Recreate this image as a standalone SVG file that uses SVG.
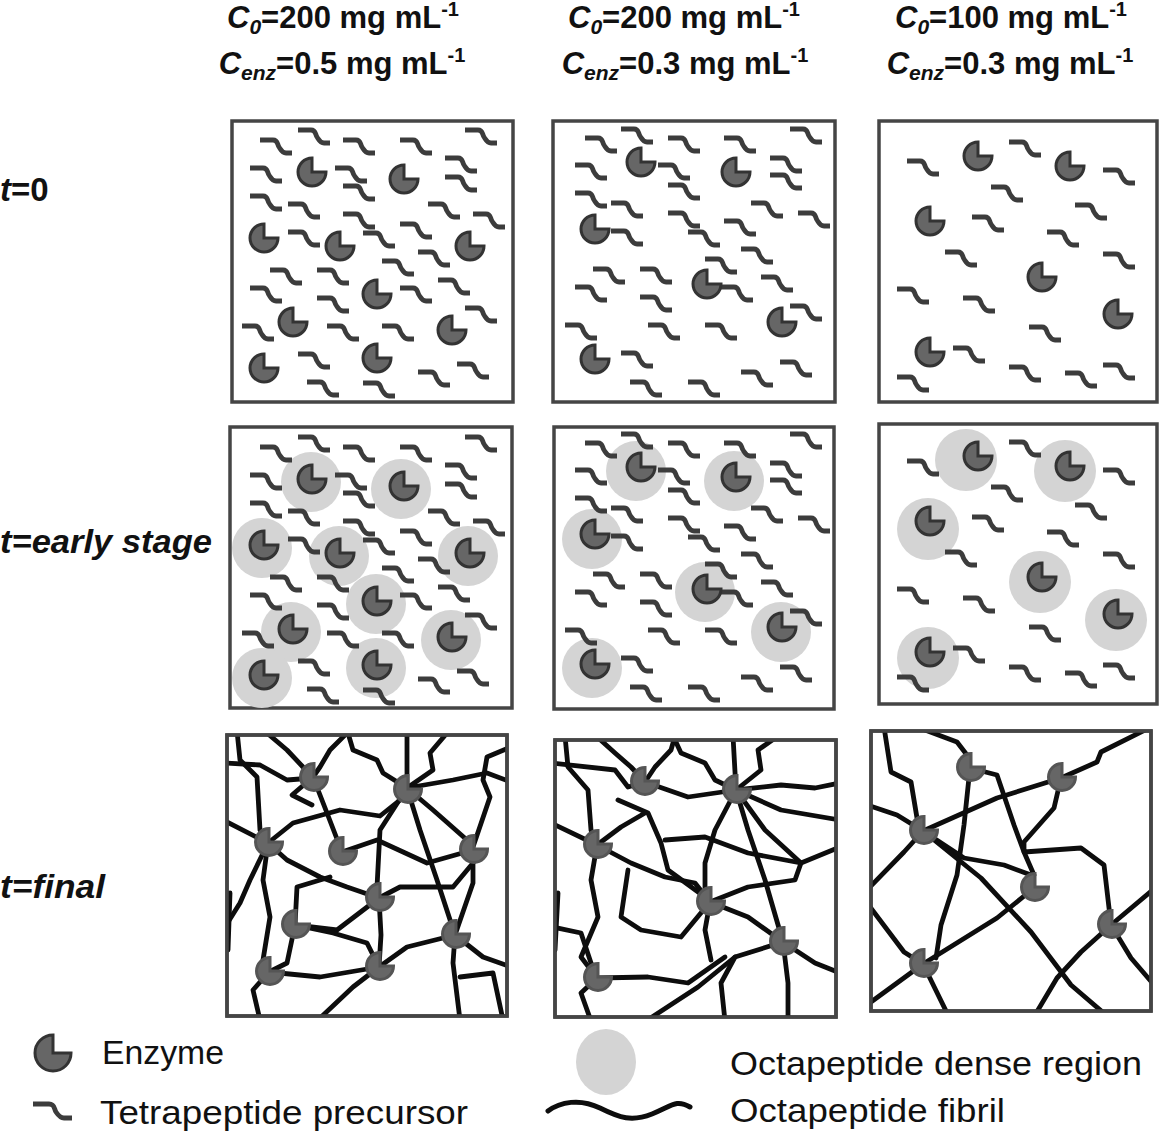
<svg xmlns="http://www.w3.org/2000/svg" xmlns:xlink="http://www.w3.org/1999/xlink" width="1162" height="1133" viewBox="0 0 1162 1133">
<style>
.box{fill:#fff;stroke:#454545;stroke-width:3.5}
.pre{fill:none;stroke:#3c3c3c;stroke-width:4.8}
.enz{fill:#666;stroke:#333;stroke-width:3}
.enzf{fill:#666;stroke:#555;stroke-width:3}
.dense{fill:#d4d4d4}
.fib{fill:none;stroke:#0d0d0d;stroke-width:4.8;stroke-linejoin:round;stroke-linecap:round}
.hd{font-family:"Liberation Sans",Arial,sans-serif;font-weight:bold;font-size:31px;fill:#111}
.rl{font-family:"Liberation Sans",Arial,sans-serif;font-weight:bold;font-style:italic;font-size:33px;fill:#111}
.lg{font-family:"Liberation Sans",Arial,sans-serif;font-size:34px;fill:#111}
</style>
<defs>
<path id="p" class="pre" d="M0,0h13c5,0 4,4 6,7s3,6 7,6h6"/>
<path id="e" class="enz" d="M0,0V-14A14,14 0 1,0 14,0Z"/>
<path id="ef" class="enzf" d="M0,0V-13.5A13.5,13.5 0 1,0 13.5,0Z"/>
<g id="pre1">
<use href="#p" x="298" y="130"/><use href="#p" x="260" y="140"/><use href="#p" x="343" y="140"/><use href="#p" x="400" y="140"/><use href="#p" x="465" y="130"/>
<use href="#p" x="250" y="168"/><use href="#p" x="335" y="168"/><use href="#p" x="445" y="158"/><use href="#p" x="445" y="177"/><use href="#p" x="343" y="186"/>
<use href="#p" x="250" y="196"/><use href="#p" x="288" y="204"/><use href="#p" x="343" y="214"/><use href="#p" x="428" y="204"/><use href="#p" x="473" y="214"/>
<use href="#p" x="400" y="224"/><use href="#p" x="288" y="232"/><use href="#p" x="363" y="233"/><use href="#p" x="418" y="252"/><use href="#p" x="382" y="261"/>
<use href="#p" x="270" y="270"/><use href="#p" x="317" y="270"/><use href="#p" x="438" y="280"/><use href="#p" x="250" y="288"/><use href="#p" x="400" y="288"/>
<use href="#p" x="317" y="298"/><use href="#p" x="465" y="308"/><use href="#p" x="242" y="326"/><use href="#p" x="327" y="326"/><use href="#p" x="382" y="326"/>
<use href="#p" x="298" y="354"/><use href="#p" x="457" y="364"/><use href="#p" x="418" y="372"/><use href="#p" x="307" y="382"/><use href="#p" x="363" y="383"/>
</g>
<g id="enz1">
<use href="#e" x="312" y="172"/><use href="#e" x="404" y="179"/><use href="#e" x="264" y="238"/><use href="#e" x="340" y="246"/><use href="#e" x="470" y="246"/>
<use href="#e" x="377" y="294"/><use href="#e" x="293" y="322"/><use href="#e" x="452" y="330"/><use href="#e" x="377" y="358"/><use href="#e" x="264" y="368"/>
</g>
<g id="pre2">
<use href="#p" x="621" y="129"/><use href="#p" x="585" y="138"/><use href="#p" x="668" y="138"/><use href="#p" x="724" y="138"/><use href="#p" x="790" y="129"/>
<use href="#p" x="575" y="165"/><use href="#p" x="658" y="165"/><use href="#p" x="770" y="158"/><use href="#p" x="770" y="175"/><use href="#p" x="668" y="185"/>
<use href="#p" x="575" y="193"/><use href="#p" x="611" y="203"/><use href="#p" x="668" y="213"/><use href="#p" x="751" y="203"/><use href="#p" x="798" y="213"/>
<use href="#p" x="724" y="221"/><use href="#p" x="611" y="231"/><use href="#p" x="688" y="232"/><use href="#p" x="741" y="249"/><use href="#p" x="705" y="259"/>
<use href="#p" x="593" y="269"/><use href="#p" x="640" y="269"/><use href="#p" x="761" y="277"/><use href="#p" x="575" y="287"/><use href="#p" x="721" y="287"/>
<use href="#p" x="640" y="297"/><use href="#p" x="790" y="306"/><use href="#p" x="565" y="325"/><use href="#p" x="648" y="325"/><use href="#p" x="705" y="325"/>
<use href="#p" x="621" y="353"/><use href="#p" x="780" y="362"/><use href="#p" x="741" y="372"/><use href="#p" x="630" y="382"/><use href="#p" x="688" y="382"/>
</g>
<g id="enz2">
<use href="#e" x="641" y="162"/><use href="#e" x="736" y="172"/><use href="#e" x="595" y="229"/><use href="#e" x="707" y="284"/><use href="#e" x="782" y="322"/><use href="#e" x="595" y="359"/>
</g>
<g id="pre3">
<use href="#p" x="907" y="161"/><use href="#p" x="1009" y="142"/><use href="#p" x="1103" y="170"/><use href="#p" x="991" y="187"/><use href="#p" x="1075" y="205"/>
<use href="#p" x="972" y="217"/><use href="#p" x="1047" y="232"/><use href="#p" x="945" y="252"/><use href="#p" x="1103" y="254"/><use href="#p" x="897" y="289"/>
<use href="#p" x="963" y="298"/><use href="#p" x="1029" y="327"/><use href="#p" x="953" y="348"/><use href="#p" x="1009" y="367"/><use href="#p" x="1065" y="373"/>
<use href="#p" x="1103" y="365"/><use href="#p" x="897" y="377"/>
</g>
<g id="enz3">
<use href="#e" x="978" y="156"/><use href="#e" x="1070" y="166"/><use href="#e" x="930" y="221"/><use href="#e" x="1042" y="277"/><use href="#e" x="1118" y="314"/><use href="#e" x="930" y="352"/>
</g>
<clipPath id="c1"><rect x="227" y="735" width="280" height="281"/></clipPath>
<clipPath id="c2"><rect x="555" y="740" width="281" height="277"/></clipPath>
<clipPath id="c3"><rect x="871" y="731" width="280" height="280"/></clipPath>
</defs>

<g id="headers">
<text class="hd" x="343" y="28" text-anchor="middle"><tspan font-style="italic">C</tspan><tspan font-style="italic" font-size="21" dy="6">0</tspan><tspan dy="-6">=200 mg mL</tspan><tspan font-size="20" dy="-12">-1</tspan></text>
<text class="hd" x="342" y="74" text-anchor="middle"><tspan font-style="italic">C</tspan><tspan font-style="italic" font-size="21" dy="6">enz</tspan><tspan dy="-6">=0.5 mg mL</tspan><tspan font-size="20" dy="-12">-1</tspan></text>
<text class="hd" x="684" y="28" text-anchor="middle"><tspan font-style="italic">C</tspan><tspan font-style="italic" font-size="21" dy="6">0</tspan><tspan dy="-6">=200 mg mL</tspan><tspan font-size="20" dy="-12">-1</tspan></text>
<text class="hd" x="685" y="74" text-anchor="middle"><tspan font-style="italic">C</tspan><tspan font-style="italic" font-size="21" dy="6">enz</tspan><tspan dy="-6">=0.3 mg mL</tspan><tspan font-size="20" dy="-12">-1</tspan></text>
<text class="hd" x="1011" y="28" text-anchor="middle"><tspan font-style="italic">C</tspan><tspan font-style="italic" font-size="21" dy="6">0</tspan><tspan dy="-6">=100 mg mL</tspan><tspan font-size="20" dy="-12">-1</tspan></text>
<text class="hd" x="1010" y="74" text-anchor="middle"><tspan font-style="italic">C</tspan><tspan font-style="italic" font-size="21" dy="6">enz</tspan><tspan dy="-6">=0.3 mg mL</tspan><tspan font-size="20" dy="-12">-1</tspan></text>
</g>

<g id="row-labels">
<text class="rl" x="0" y="201">t<tspan font-style="normal">=0</tspan></text>
<text class="rl" x="0" y="553" textLength="212" lengthAdjust="spacingAndGlyphs">t=early stage</text>
<text class="rl" x="0" y="898" textLength="105" lengthAdjust="spacingAndGlyphs">t=final</text>
</g>

<!-- Row 1: t=0 -->
<g id="panel-r1c1"><rect class="box" x="232" y="121" width="281" height="281"/><use href="#pre1"/><use href="#enz1"/></g>
<g id="panel-r1c2"><rect class="box" x="553" y="121" width="282" height="281"/><use href="#pre2"/><use href="#enz2"/></g>
<g id="panel-r1c3"><rect class="box" x="879" y="121" width="278" height="281"/><use href="#pre3"/><use href="#enz3"/></g>

<!-- Row 2: early stage -->
<g id="panel-r2c1">
<rect class="box" x="230" y="427" width="282" height="281"/>
<g transform="translate(0,307)">
<g class="dense">
<circle cx="311" cy="175" r="30"/><circle cx="401" cy="182" r="30"/><circle cx="262" cy="241" r="30"/><circle cx="339" cy="249" r="30"/><circle cx="468" cy="249" r="30"/>
<circle cx="376" cy="297" r="30"/><circle cx="291" cy="325" r="30"/><circle cx="451" cy="333" r="30"/><circle cx="376" cy="361" r="30"/><circle cx="262" cy="371" r="30"/>
</g>
<use href="#pre1"/><use href="#enz1"/>
</g>
</g>
<g id="panel-r2c2">
<rect class="box" x="554" y="427" width="280" height="282"/>
<g transform="translate(0,305)">
<g class="dense">
<circle cx="636" cy="166" r="30"/><circle cx="734" cy="176" r="30"/><circle cx="592" cy="234" r="30"/><circle cx="705" cy="287" r="30"/><circle cx="781" cy="327" r="30"/><circle cx="592" cy="363" r="30"/>
</g>
<use href="#pre2"/><use href="#enz2"/>
</g>
</g>
<g id="panel-r2c3">
<rect class="box" x="879" y="424" width="278" height="280"/>
<g transform="translate(0,300)">
<g class="dense">
<circle cx="966" cy="160" r="31"/><circle cx="1065" cy="171" r="31"/><circle cx="928" cy="229" r="31"/><circle cx="1040" cy="282" r="31"/><circle cx="1116" cy="320" r="31"/><circle cx="928" cy="358" r="31"/>
</g>
<use href="#pre3"/><use href="#enz3"/>
</g>
</g>

<!-- Row 3: final -->
<g id="panel-r3c1">
<rect class="box" x="227" y="735" width="280" height="281"/>
<g class="fib" clip-path="url(#c1)">
<path d="M267,733 L287,750 L303,767 L313,777"/>
<path d="M225,763 L260,765 L287,780 L313,778"/>
<path d="M237,731 L240,760 L257,777 L260,830 L268,843"/>
<path d="M313,777 L320,767 L330,750 L347,733"/>
<path d="M348,733 L353,750 L377,760 L383,773 L407,788"/>
<path d="M407,731 L407,788"/>
<path d="M407,788 L433,770 L430,753 L447,733"/>
<path d="M407,788 L453,780 L487,773 L511,782"/>
<path d="M511,747 L487,757 L483,780 L490,797 L473,847"/>
<path d="M407,788 L433,810 L467,840 L473,850"/>
<path d="M407,788 L420,830 L437,880 L455,935"/>
<path d="M407,788 L380,830 L377,887 L379,898 L381,935 L379,967"/>
<path d="M313,777 L327,813 L342,852"/>
<path d="M313,777 L292,795 L312,805"/>
<path d="M268,843 L293,823 L340,810 L380,816 L400,800 L407,788"/>
<path d="M342,852 L377,840 L427,863 L473,850"/>
<path d="M268,843 L287,860 L320,877 L347,887 L379,898"/>
<path d="M268,843 L263,880 L270,917 L263,960 L269,972"/>
<path d="M268,843 L223,820"/>
<path d="M223,930 L240,903 L250,880 L268,843"/>
<path d="M295,925 L297,887 L330,877"/>
<path d="M295,925 L337,930 L379,898"/>
<path d="M295,925 L287,963 L269,972"/>
<path d="M295,925 L333,933 L367,943 L379,967"/>
<path d="M269,972 L320,977 L379,967 L407,947 L455,935"/>
<path d="M269,972 L253,990 L260,1020"/>
<path d="M379,967 L353,987 L318,1020"/>
<path d="M455,935 L453,963 L460,1020"/>
<path d="M455,935 L483,957 L511,967"/>
<path d="M455,935 L473,883 L473,850"/>
<path d="M460,977 L493,973 L503,1020"/>
<path d="M379,898 L400,887 L453,887 L473,863"/>
<path d="M230,893 L228,950"/>
</g>
<rect x="227" y="735" width="280" height="281" fill="none" stroke="#454545" stroke-width="3.5"/>
<g>
<use href="#ef" x="314" y="777"/><use href="#ef" x="408" y="789"/><use href="#ef" x="269" y="842"/><use href="#ef" x="343" y="851"/><use href="#ef" x="474" y="849"/>
<use href="#ef" x="380" y="897"/><use href="#ef" x="296" y="924"/><use href="#ef" x="456" y="934"/><use href="#ef" x="270" y="971"/><use href="#ef" x="380" y="966"/>
</g>
</g>

<g id="panel-r3c2">
<rect class="box" x="555" y="740" width="281" height="277"/>
<g class="fib" clip-path="url(#c2)">
<path d="M565,736 L568,767 L588,790 L591,830 L597,845"/>
<path d="M551,763 L615,770 L628,787 L645,782"/>
<path d="M595,735 L615,753 L631,767 L645,782"/>
<path d="M645,782 L655,767 L671,750 L675,736"/>
<path d="M675,740 L681,753 L705,763 L715,780 L736,790"/>
<path d="M733,736 L736,790"/>
<path d="M736,790 L761,770 L758,750 L778,736"/>
<path d="M736,790 L781,785 L815,788 L840,783"/>
<path d="M736,790 L781,810 L840,820"/>
<path d="M645,782 L688,797 L736,790"/>
<path d="M618,800 L648,813 L661,843 L668,870 L705,897"/>
<path d="M597,845 L621,827 L645,813"/>
<path d="M597,845 L551,823"/>
<path d="M597,845 L631,863 L665,877 L695,883 L710,902"/>
<path d="M597,845 L591,880 L598,917 L581,957 L597,978"/>
<path d="M736,790 L715,830 L705,863 L705,900"/>
<path d="M736,790 L748,830 L765,880 L783,942"/>
<path d="M736,790 L765,830 L801,863"/>
<path d="M665,840 L705,837 L748,853 L801,863 L840,847"/>
<path d="M710,902 L748,887 L795,880 L801,863"/>
<path d="M628,870 L621,917 L641,930 L681,937 L710,902"/>
<path d="M710,902 L705,930 L711,960"/>
<path d="M710,902 L748,917 L783,942"/>
<path d="M783,942 L735,957 L721,983 L725,1021"/>
<path d="M783,942 L788,983 L788,1021"/>
<path d="M783,942 L815,963 L840,973"/>
<path d="M597,978 L648,977 L688,983 L725,957"/>
<path d="M597,978 L581,993 L591,1021"/>
<path d="M646,1021 L698,987 L735,957"/>
<path d="M558,893 L555,950"/>
<path d="M553,927 L581,933 L591,963 L597,978"/>
</g>
<rect x="555" y="740" width="281" height="277" fill="none" stroke="#454545" stroke-width="3.5"/>
<g>
<use href="#ef" x="645" y="781"/><use href="#ef" x="737" y="789"/><use href="#ef" x="598" y="844"/><use href="#ef" x="711" y="901"/><use href="#ef" x="784" y="941"/><use href="#ef" x="598" y="977"/>
</g>
</g>

<g id="panel-r3c3">
<rect class="box" x="871" y="731" width="280" height="280"/>
<g class="fib" clip-path="url(#c3)">
<path d="M884,727 L891,772 L911,782 L917,818 L923,831"/>
<path d="M917,727 L957,742 L967,755 L970,768"/>
<path d="M867,805 L897,815 L923,831"/>
<path d="M923,831 L997,798 L1061,778"/>
<path d="M1061,778 L1097,762 L1101,752 L1151,727"/>
<path d="M970,768 L997,775 L1014,825 L1024,852 L1034,875"/>
<path d="M970,768 L964,825 L957,875 L941,925 L936,958"/>
<path d="M1061,778 L1054,808 L1024,842 L1024,852 L1081,848 L1104,865 L1111,925"/>
<path d="M923,831 L904,852 L867,890"/>
<path d="M923,831 L964,858 L1004,865 L1031,875 L1034,888"/>
<path d="M923,831 L981,878 L1031,932 L1071,985 L1106,1015"/>
<path d="M1034,888 L997,918 L923,964"/>
<path d="M867,903 L904,952 L923,964"/>
<path d="M923,964 L867,1005"/>
<path d="M923,964 L948,1015"/>
<path d="M1111,925 L1155,888"/>
<path d="M1111,925 L1081,952 L1057,978 L1035,1015"/>
<path d="M1111,925 L1131,958 L1155,986"/>
</g>
<rect x="871" y="731" width="280" height="280" fill="none" stroke="#454545" stroke-width="3.5"/>
<g>
<use href="#ef" x="971" y="767"/><use href="#ef" x="1062" y="777"/><use href="#ef" x="924" y="830"/><use href="#ef" x="1035" y="887"/><use href="#ef" x="1112" y="924"/><use href="#ef" x="924" y="963"/>
</g>
</g>

<!-- Legend -->
<g id="legend">
<path class="enz" d="M53,1053V1035A18,18 0 1,0 71,1053Z"/>
<text class="lg" x="102" y="1064" textLength="122" lengthAdjust="spacingAndGlyphs">Enzyme</text>
<path class="pre" d="M33,1104h16c6,0 5,5 7,8s4,6 8,6h8"/>
<text class="lg" x="100" y="1124" textLength="368" lengthAdjust="spacingAndGlyphs">Tetrapeptide precursor</text>
<ellipse class="dense" cx="606" cy="1062" rx="30" ry="33"/>
<text class="lg" x="730" y="1075" textLength="412" lengthAdjust="spacingAndGlyphs">Octapeptide dense region</text>
<path d="M548,1111 C560,1102 580,1098 600,1108 S632,1122 652,1114 S676,1099 690,1107" fill="none" stroke="#0d0d0d" stroke-width="5" stroke-linecap="round"/>
<text class="lg" x="730" y="1122" textLength="275" lengthAdjust="spacingAndGlyphs">Octapeptide fibril</text>
</g>
</svg>
